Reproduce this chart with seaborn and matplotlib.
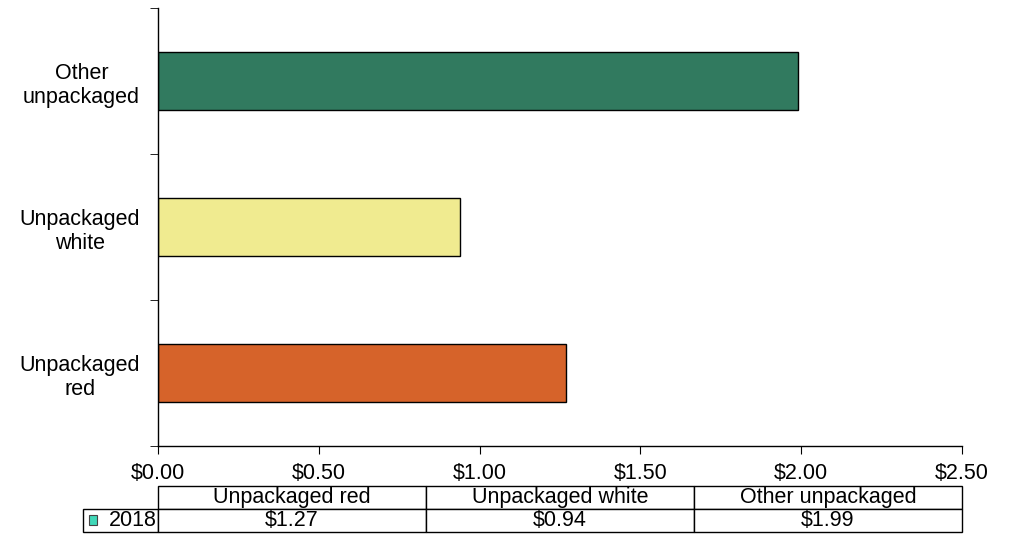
import matplotlib
matplotlib.use('Agg')
import matplotlib.pyplot as plt
import seaborn as sns
import pandas as pd
from matplotlib.patches import Rectangle

# data (table order)
categories = ['Unpackaged red', 'Unpackaged white', 'Other unpackaged']
values_2018 = [1.27, 0.94, 1.99]
bar_colors = ['#D6632A', '#F0EB90', '#317A5F']
series_name = '2018'
axis_labels = {'Unpackaged red': 'Unpackaged\nred',
               'Unpackaged white': 'Unpackaged\nwhite',
               'Other unpackaged': 'Other\nunpackaged'}

sns.set_style('white')
plt.rcParams['font.family'] = ['Liberation Sans', 'DejaVu Sans']
plt.rcParams['text.color'] = 'black'
plt.rcParams['xtick.color'] = 'black'
plt.rcParams['ytick.color'] = 'black'
fs = 15.5

df = pd.DataFrame({'category': categories, 'value': values_2018})
plot_order = categories[::-1]

fig = plt.figure(figsize=(10.1, 5.41), dpi=100)
ax = fig.add_axes([0.1564, 0.1756, 0.7961, 0.8096])

sns.barplot(data=df, x='value', y='category', order=plot_order, hue='category',
            hue_order=categories, palette=bar_colors, orient='h', width=0.4,
            saturation=1, edgecolor='black', linewidth=1, legend=False, ax=ax)

ax.set_xlim(0, 2.5)
ax.set_ylim(2.5, -0.5)
ax.set_xticks([0, 0.5, 1.0, 1.5, 2.0, 2.5])
ax.set_xticklabels([f'${t:.2f}' for t in [0, 0.5, 1.0, 1.5, 2.0, 2.5]], fontsize=fs)
ax.set_yticks(range(len(plot_order)))
ax.set_yticklabels([axis_labels[c] for c in plot_order], fontsize=15.5, multialignment='center')
ax.set_yticks([-0.5, 0.5, 1.5, 2.5], minor=True)
ax.tick_params(axis='y', which='major', length=0, pad=13)
ax.tick_params(axis='y', which='minor', length=6, color='black', direction='out', left=True)
ax.tick_params(axis='x', which='major', length=6, color='black', direction='out', bottom=True, pad=6)
ax.set_xlabel('')
ax.set_ylabel('')
for s in ['top', 'right']:
    ax.spines[s].set_visible(False)
for s in ['left', 'bottom']:
    ax.spines[s].set_color('black')
    ax.spines[s].set_linewidth(1)

# data table under the axis
lab_w = 75 / 804
cell_text = [[''] + categories, [series_name] + [f'${v:.2f}' for v in values_2018]]
tbl = ax.table(cellText=cell_text, cellLoc='center',
               colWidths=[lab_w] + [1 / 3] * 3,
               bbox=[-lab_w, -0.1963, 1 + lab_w, 0.105])
tbl.auto_set_font_size(False)
tbl.set_fontsize(fs)
for (r, c), cell in tbl.get_celld().items():
    cell.set_edgecolor('black')
    cell.set_linewidth(1)
    cell.get_text().set_color('black')
    if r == 0 and c == 0:
        cell.visible_edges = ''
    if r == 1 and c == 0:
        cell.get_text().set_ha('right')
        cell._loc = 'right'
        cell.PAD = 0.01

# legend key in the row label cell
key = Rectangle((-lab_w + 0.007, -0.1963 + 0.017), 0.011, 0.021,
                transform=ax.transAxes, facecolor='#40D8B8', edgecolor='#444444',
                linewidth=0.8, clip_on=False)
ax.add_patch(key)

fig.savefig('out.png', dpi=100)
